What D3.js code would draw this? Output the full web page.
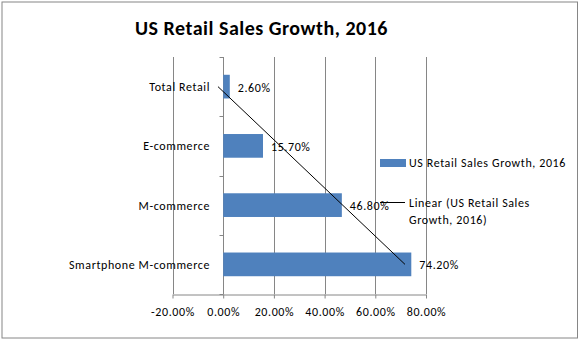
<!DOCTYPE html>
<html><head><meta charset="utf-8">
<script src="https://cdn.jsdelivr.net/npm/d3@7"></script>
<style>html,body{margin:0;padding:0;background:#fff}svg{display:block}</style>
</head><body>
<script>
const categories = ["Total Retail", "E-commerce", "M-commerce", "Smartphone M-commerce"];
const values = [0.026, 0.157, 0.468, 0.742];
const xTicks = [-0.2, 0, 0.2, 0.4, 0.6, 0.8];
const seriesName = "US Retail Sales Growth, 2016";
const trendName = ["Linear (US Retail Sales", "Growth, 2016)"];
const title = "US Retail Sales Growth, 2016";

const W = 581, H = 341;
const font = "Carlito, Calibri, Lato, 'Liberation Sans', sans-serif";
const fs = 12, ls = 0.6;
const pct = d => d3.format(".2f")(d * 100).replace("\u2212", "-") + "%";
const svg = d3.select("body").append("svg").attr("width", W).attr("height", H);
svg.append("rect").attr("x", 2).attr("y", 2).attr("width", 575.5).attr("height", 336)
  .attr("fill", "#fff").attr("stroke", "#868686").attr("stroke-width", 1);

svg.append("text").attr("x", 261.5).attr("y", 35).attr("text-anchor", "middle")
  .attr("font-family", font).attr("font-weight", "bold").attr("font-size", 20)
  .attr("letter-spacing", 0.5).attr("fill", "#000").text(title);

const x = d3.scaleLinear().domain([-0.2, 0.8]).range([172.5, 426]);
const y = d3.scaleBand().domain(categories).range([57, 294]).paddingInner(0.6).paddingOuter(0.3);
const band = d3.scaleBand().domain(categories).range([57, 294]);
const gray = "#868686";

// gridlines
svg.append("g").selectAll("line").data(xTicks).join("line")
  .attr("x1", d => Math.round(x(d)) + 0.5).attr("x2", d => Math.round(x(d)) + 0.5)
  .attr("y1", 57).attr("y2", 294).attr("stroke", gray);

// bottom axis
const xa = svg.append("g").attr("transform", "translate(0,294.5)")
  .call(d3.axisBottom(x).tickValues(xTicks).tickSize(4).tickSizeOuter(0).tickPadding(9)
    .tickFormat(pct));
xa.select(".domain").attr("stroke", gray);
xa.selectAll(".tick line").attr("stroke", gray);
xa.selectAll("text").attr("font-family", font).attr("font-size", fs).attr("letter-spacing", ls).attr("fill", "#000");

// category axis at 0
const x0 = Math.round(x(0)) + 0.5;
svg.append("line").attr("x1", x0).attr("x2", x0).attr("y1", 57).attr("y2", 294).attr("stroke", gray);
const bounds = categories.map(c => band(c)).concat([294]);
svg.append("g").selectAll("line").data(bounds).join("line")
  .attr("x1", x0 - 4).attr("x2", x0).attr("y1", d => Math.round(d) + 0.5).attr("y2", d => Math.round(d) + 0.5)
  .attr("stroke", gray);
svg.append("g").selectAll("text").data(categories).join("text")
  .attr("x", 210).attr("y", c => band(c) + band.bandwidth() / 2 + 4.5)
  .attr("text-anchor", "end").attr("font-family", font).attr("font-size", fs).attr("letter-spacing", ls).attr("fill", "#000")
  .text(c => c);

// bars
svg.append("g").selectAll("rect").data(values).join("rect")
  .attr("x", x(0)).attr("y", (d, i) => y(categories[i]))
  .attr("width", d => x(d) - x(0)).attr("height", y.bandwidth())
  .attr("fill", "#4f81bd");

// labels
svg.append("g").selectAll("text").data(values).join("text")
  .attr("x", d => x(d) + 8).attr("y", (d, i) => band(categories[i]) + band.bandwidth() / 2 + 5)
  .attr("font-family", font).attr("font-size", fs).attr("letter-spacing", ls).attr("fill", "#000")
  .text(pct);

// linear trendline
const n = values.length;
const xs = values.map((d, i) => i + 1);
const mx = d3.mean(xs), my = d3.mean(values);
const slope = d3.sum(xs, (v, i) => (v - mx) * (values[i] - my)) / d3.sum(xs, v => (v - mx) ** 2);
const icpt = my - slope * mx;
const yc = i => band(categories[i]) + band.bandwidth() / 2;
svg.append("line")
  .attr("x1", x(icpt + slope * 1)).attr("y1", yc(0))
  .attr("x2", x(icpt + slope * n)).attr("y2", yc(n - 1))
  .attr("stroke", "#000").attr("stroke-width", 1);

// legend
svg.append("rect").attr("x", 380).attr("y", 159).attr("width", 26).attr("height", 8).attr("fill", "#4f81bd");
svg.append("text").attr("x", 409).attr("y", 167).attr("font-family", font).attr("font-size", fs).attr("letter-spacing", ls).text(seriesName);
svg.append("line").attr("x1", 380).attr("x2", 405).attr("y1", 202.5).attr("y2", 202.5).attr("stroke", "#000");
svg.append("g").selectAll("text").data(trendName).join("text")
  .attr("x", 409).attr("y", (d, i) => 207 + i * 17)
  .attr("font-family", font).attr("font-size", fs).attr("letter-spacing", ls).text(d => d);
</script>
</body></html>
